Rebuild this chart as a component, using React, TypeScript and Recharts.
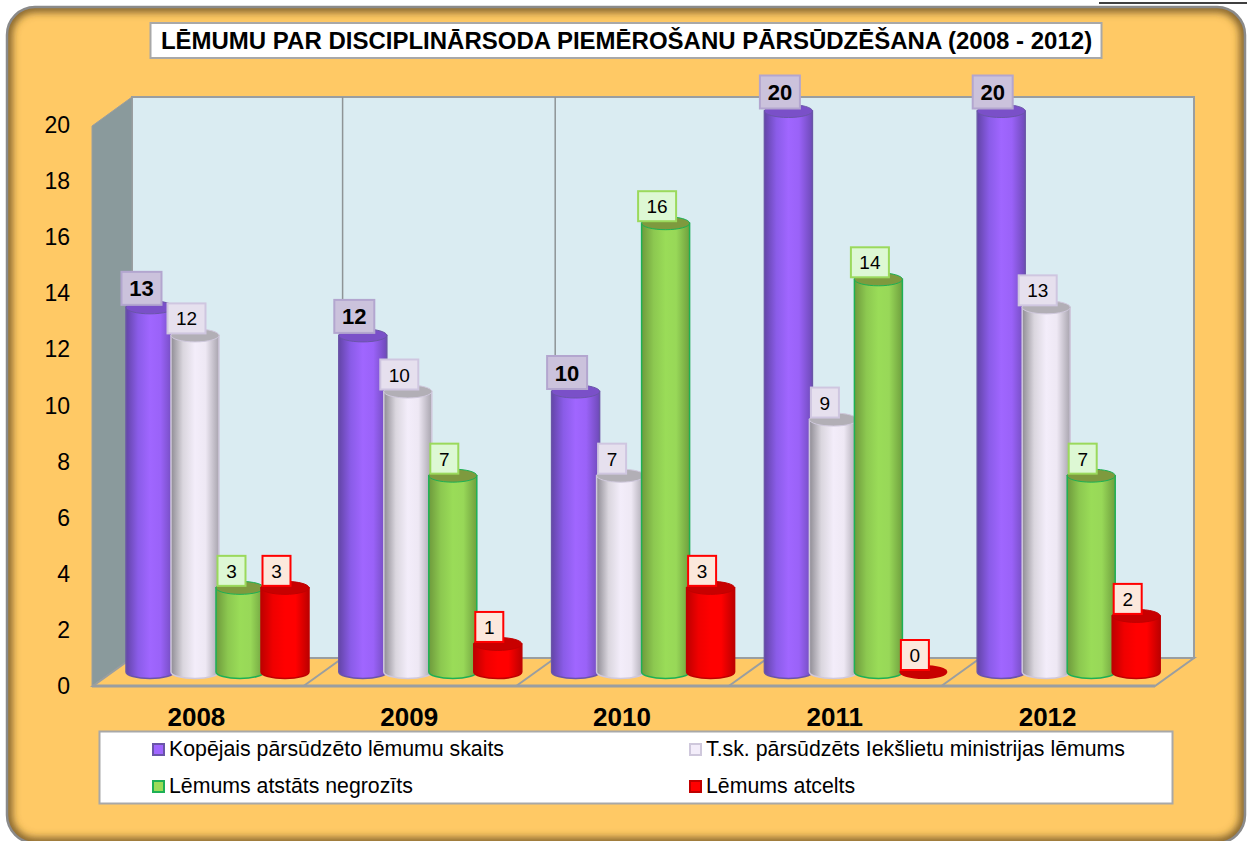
import React from "react";
import { BarChart, Bar, XAxis, YAxis, Customized, LabelList, Legend } from "recharts";

const years = ["2008", "2009", "2010", "2011", "2012"];
const totalAppealed = [13, 12, 10, 20, 20];
const ministryAppealed = [12, 10, 7, 9, 13];
const leftUnchanged = [3, 7, 16, 14, 7];
const annulled = [3, 1, 3, 0, 2];
const yTicks = [0, 2, 4, 6, 8, 10, 12, 14, 16, 18, 20];
const seriesNames = [
  "Kopējais pārsūdzēto lēmumu skaits",
  "T.sk. pārsūdzēts Iekšlietu ministrijas lēmums",
  "Lēmums atstāts negrozīts",
  "Lēmums atcelts",
];
const titleText = "LĒMUMU PAR DISCIPLINĀRSODA PIEMĒROŠANU PĀRSŪDZĒŠANA (2008 - 2012)";

const rows = years.map((year, i) => ({
  year,
  total: totalAppealed[i],
  ministry: ministryAppealed[i],
  upheld: leftUnchanged[i],
  annulled: annulled[i],
}));

const FONT = '"Liberation Sans", Arial, sans-serif';

const styles = {
  total: { id: "gPurple", edge: "#6A55A8", top: "#7A50C8", stops: ["#6345A8", "#8A5CE8", "#A066FF", "#9A62F8", "#6E4AB8"], boxFill: "#CBC2DC", boxStroke: "#B3A6CF", bold: true },
  ministry: { id: "gWhite", edge: "#CFC8DC", top: "#B2AFB6", stops: ["#8F8C94", "#DAD6DE", "#F3EDFA", "#EEE8F4", "#A8A4AE"], boxFill: "#E6E0EE", boxStroke: "#CFC6E0", bold: false },
  upheld: { id: "gGreen", edge: "#1DB055", top: "#7E9A3E", stops: ["#6E9A3C", "#8CC850", "#9ADC58", "#98D858", "#6F9F3E"], boxFill: "#DDF8D4", boxStroke: "#9BD95C", bold: false },
  annulled: { id: "gRed", edge: "#C00000", top: "#C80000", stops: ["#BE0000", "#F00000", "#FF0000", "#FF0000", "#BC0000"], boxFill: "#FCE8DC", boxStroke: "#FF0000", bold: false },
};
type Key = keyof typeof styles;

const RY = 6.5;

function cylinder(key: Key) {
  return (props: any) => {
    const { x, y, width, height } = props;
    const s = styles[key];
    const w = width + 3;
    const rx = w / 2;
    const bottom = y + height;
    if (!height) {
      return <ellipse cx={x + rx} cy={y} rx={rx} ry={7} fill={s.top} />;
    }
    return (
      <g>
        <path
          d={`M${x},${y} L${x},${bottom} A${rx},${RY} 0 0 0 ${x + w},${bottom} L${x + w},${y} Z`}
          fill={`url(#${s.id})`}
          stroke={s.edge}
          strokeWidth={1.5}
        />
        <ellipse cx={x + rx} cy={y} rx={rx} ry={RY} fill={s.top} stroke={s.edge} strokeWidth={1} />
      </g>
    );
  };
}

function valueBox(key: Key) {
  return (props: any) => {
    const { x, y, width, value } = props;
    const s = styles[key];
    const text = String(value);
    const boxW = s.bold ? 40 : text.length > 1 ? 38 : 28;
    const boxH = s.bold ? 33 : 30;
    const cx = x + width / 2 - 7;
    const cy = y - (s.bold ? 19 : 17);
    return (
      <g>
        <rect x={cx - boxW / 2} y={cy - boxH / 2} width={boxW} height={boxH} fill={s.boxFill} stroke={s.boxStroke} strokeWidth={2} />
        <text x={cx} y={cy + (s.bold ? 8 : 7)} textAnchor="middle" fontFamily={FONT} fontSize={s.bold ? 22 : 19} fontWeight={s.bold ? 700 : 400} fill="#000">
          {text}
        </text>
      </g>
    );
  };
}

const YTick = (p: any) => (
  <text x={70} y={p.y + 22} textAnchor="end" fontFamily={FONT} fontSize={23} fill="#000">
    {p.payload.value}
  </text>
);

const XTick = (p: any) => (
  <text x={p.x - 20} y={726} textAnchor="middle" fontFamily={FONT} fontSize={26} fontWeight={700} fill="#000">
    {p.payload.value}
  </text>
);

const Frame = () => {
  const wall = "#9A9EA0";
  const pitch = 212.6;
  return (
    <g>
      <defs>
        {(Object.keys(styles) as Key[]).map((k) => (
          <linearGradient key={k} id={styles[k].id} x1="0" x2="1" y1="0" y2="0">
            {styles[k].stops.map((c, i) => (
              <stop key={i} offset={[0, 0.25, 0.5, 0.72, 1][i]} stopColor={c} />
            ))}
          </linearGradient>
        ))}
        <filter id="soft" x="-5%" y="-5%" width="110%" height="110%">
          <feGaussianBlur stdDeviation="4" />
        </filter>
        <clipPath id="panelClip">
          <rect x={7} y={7} width={1238} height={836} rx={28} />
        </clipPath>
      </defs>
      {/* outer panel */}
      <rect x={7} y={7} width={1238} height={836} rx={28} fill="#FFC965" />
      <g clipPath="url(#panelClip)">
        <rect x={7} y={7} width={1238} height={836} rx={28} fill="none" stroke="#6B5020" strokeWidth={9} filter="url(#soft)" />
      </g>
      <rect x={7} y={7} width={1238} height={836} rx={28} fill="none" stroke="#8A8A8A" strokeWidth={2.5} />
      <line x1={1099} x2={1247} y1={3} y2={3} stroke="#000" strokeWidth={1.5} />

      {/* title */}
      <rect x={150.5} y={23} width={951} height={35} fill="#FFF" stroke="#A8A8A8" strokeWidth={2} />
      <text x={626.5} y={49} textAnchor="middle" fontFamily={FONT} fontSize={24} fontWeight={700} fill="#000">
        {titleText}
      </text>

      {/* 3D frame */}
      <polygon points="132,97 1194,97 1194,658 132,658" fill="#DAECF2" stroke={wall} strokeWidth={2} />
      <polygon points="92,126 132,97 132,658 92,686" fill="#8A9A9C" stroke={wall} strokeWidth={1} />
      <polygon points="93,686 132,658 1194,658 1155,686" fill="#FFC965" stroke={wall} strokeWidth={2} />
      <line x1={92} x2={1155} y1={686} y2={686} stroke={wall} strokeWidth={3} />
      {[1, 2, 3, 4].map((i) => (
        <g key={i}>
          <line x1={130 + i * pitch} x2={130 + i * pitch} y1={97} y2={658} stroke="#8E9496" strokeWidth={1.5} />
          <line x1={91 + i * pitch} x2={130 + i * pitch} y1={686} y2={658} stroke={wall} strokeWidth={2} />
        </g>
      ))}
    </g>
  );
};

const legendItems: Key[] = ["total", "ministry", "upheld", "annulled"];

const LegendBox = () => (
  <svg width={1247} height={841} style={{ position: "absolute", left: 0, top: 0, pointerEvents: "none" }}>
    <rect x={99.5} y={731.5} width={1073} height={72} fill="#FFF" stroke="#A8A8A8" strokeWidth={2} />
    {legendItems.map((k, i) => {
      const col = i % 2;
      const row = Math.floor(i / 2);
      const mx = col === 0 ? 153 : 690;
      const my = row === 0 ? 744 : 781;
      const s = styles[k];
      return (
        <g key={k}>
          <rect x={mx} y={my} width={11} height={11} fill={s.stops[2]} stroke={k === "ministry" ? "#CFC8DC" : k === "total" ? "#6A55A8" : s.edge} strokeWidth={2} />
          <text x={mx + 16} y={my + 12} fontFamily={FONT} fontSize={21.3} fill="#000">
            {seriesNames[i]}
          </text>
        </g>
      );
    })}
  </svg>
);

export default function App() {
  return (
    <div style={{ position: "absolute", left: 0, top: 0, width: 1247, height: 841, overflow: "hidden", background: "#FFF" }}>
      <BarChart
        width={1247}
        height={841}
        data={rows}
        barSize={45}
        barGap={0}
        barCategoryGap={0}
        margin={{ top: 111, right: 73, bottom: 129, left: 70 }}
      >
        <Customized component={Frame} />
        <XAxis dataKey="year" axisLine={false} tickLine={false} height={40} tick={XTick} interval={0} />
        <YAxis type="number" domain={[0, 20]} ticks={yTicks} width={40} axisLine={false} tickLine={false} tick={YTick} interval={0} />
        {(Object.keys(styles) as Key[]).map((k, i) => (
          <Bar key={k} dataKey={k} name={seriesNames[i]} shape={cylinder(k)} isAnimationActive={false}>
            <LabelList dataKey={k} content={valueBox(k)} />
          </Bar>
        ))}
        <Legend content={() => <LegendBox />} layout="horizontal" verticalAlign="middle" wrapperStyle={{ left: 0, top: 0, width: 0, height: 0 }} />
      </BarChart>
    </div>
  );
}
